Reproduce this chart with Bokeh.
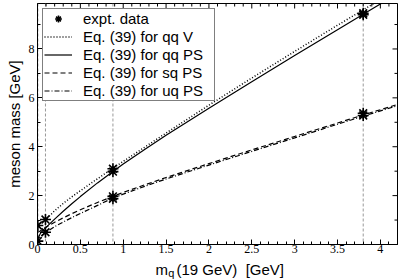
import math
from bokeh.plotting import figure
from bokeh.layouts import column
from bokeh.models import (Span, Legend, LegendItem, SingleIntervalTicker, Range1d)
from bokeh.core.properties import value
from bokeh.embed import file_html
from bokeh.resources import INLINE

# ---- data ----
quark_mass = [0.004, 0.093, 0.88, 3.8]          # vertical guide lines
expt_x = [0.004, 0.004, 0.093, 0.093, 0.88, 0.88, 0.88, 0.88, 3.8, 3.8, 3.8, 3.8]
expt_y = [0.14, 0.78, 0.50, 1.02, 2.98, 3.10, 1.87, 1.97, 9.40, 9.46, 5.28, 5.37]

mq = [0.0, 0.002, 0.01, 0.03, 0.06, 0.1, 0.2, 0.3, 0.4, 0.5, 0.7, 0.88,
      1.0, 1.25, 1.5, 2.0, 2.5, 3.0, 3.5, 3.8, 4.2]
qq_V = [0.77, 0.78, 0.80, 0.86, 0.94, 1.03, 1.38, 1.68, 1.95, 2.20, 2.69, 3.12,
        3.40, 3.98, 4.56, 5.70, 6.81, 7.90, 8.97, 9.60, 10.44]
qq_PS = [0.0, 0.14, 0.27, 0.43, 0.57, 0.70, 1.04, 1.36, 1.665, 1.96, 2.52, 2.99,
         3.29, 3.89, 4.465, 5.575, 6.66, 7.73, 8.79, 9.42, 10.26]
sq_PS = [0.49, 0.50, 0.515, 0.55, 0.62, 0.71, 0.91, 1.09, 1.26, 1.42, 1.72, 1.97,
         2.13, 2.44, 2.74, 3.31, 3.87, 4.42, 4.97, 5.30, 5.73]
uq_PS = [0.0, 0.14, 0.22, 0.31, 0.40, 0.50, 0.73, 0.92, 1.10, 1.27, 1.60, 1.90,
         2.06, 2.38, 2.68, 3.25, 3.81, 4.36, 4.92, 5.25, 5.68]

x_major_ticks = [0.0, 0.5, 1.0, 1.5, 2.0, 2.5, 3.0, 3.5, 4.0]
x_minor_ticks = [0.1, 0.2, 0.3, 0.4, 0.6, 0.7, 0.8, 0.9, 1.1, 1.2, 1.3, 1.4,
                 1.6, 1.7, 1.8, 1.9, 2.1, 2.2, 2.3, 2.4, 2.6, 2.7, 2.8, 2.9,
                 3.1, 3.2, 3.3, 3.4, 3.6, 3.7, 3.8, 3.9, 4.1, 4.2]
y_major_ticks = [0, 2, 4, 6, 8]
y_minor_ticks = [1, 3, 5, 7, 9]

legend_labels = ["expt. data", "Eq. (39) for qq V", "Eq. (39) for qq PS",
                 "Eq. (39) for sq PS", "Eq. (39) for uq PS"]
y_title = "meson mass [GeV]"
x_title_parts = ["m", "q", "(19 GeV)\u00a0 [GeV]"]

SANS = "Liberation Sans"
SERIF = "Liberation Serif"

X_MAX = 4.2
Y_MAX = 9.86
W = 398
H_MAIN, H_TITLE = 255, 24
B_LEFT, B_RIGHT, B_TOP, B_BOTTOM = 29, 1, 3, 11
frame_w = W - 37 - B_RIGHT
px_x = frame_w / X_MAX      # pixels per x data unit

p = figure(width=W, height=H_MAIN, output_backend="svg", toolbar_location=None,
           x_range=Range1d(0, X_MAX), y_range=Range1d(0, Y_MAX),
           min_border_left=B_LEFT, min_border_right=B_RIGHT,
           min_border_top=B_TOP, min_border_bottom=B_BOTTOM,
           background_fill_color="white", border_fill_color="white")
p.grid.visible = False
p.outline_line_color = "black"
p.outline_line_width = 1

def style_axis(ax):
    ax.axis_line_color = "black"
    ax.major_tick_in = 5
    ax.major_tick_out = 0
    ax.minor_tick_in = 3
    ax.minor_tick_out = 0
    ax.major_tick_line_color = "black"
    ax.minor_tick_line_color = "black"
    ax.major_label_text_font = SERIF
    ax.major_label_text_font_size = "12px"
    ax.major_label_text_color = "black"

xa = p.xaxis[0]
xa.ticker = SingleIntervalTicker(interval=0.5, num_minor_ticks=5)
style_axis(xa)
xa.major_label_standoff = 0

ya = p.yaxis[0]
ya.ticker = SingleIntervalTicker(interval=2, num_minor_ticks=2)
style_axis(ya)
ya.major_label_standoff = 3
ya.axis_label = y_title
ya.axis_label_text_font = SANS
ya.axis_label_text_font_size = "15px"
ya.axis_label_text_font_style = "normal"
ya.axis_label_text_color = "black"
ya.axis_label_standoff = 3

# inward ticks on the top and right frame edges (outer half of each dash is clipped)
p.scatter(x_major_ticks, [Y_MAX] * len(x_major_ticks), marker="dash", angle=math.pi / 2,
          size=10, line_color="black", line_width=1)
p.scatter(x_minor_ticks, [Y_MAX] * len(x_minor_ticks), marker="dash", angle=math.pi / 2,
          size=6, line_color="black", line_width=1)
p.scatter([X_MAX] * len(y_major_ticks), y_major_ticks, marker="dash",
          size=10, line_color="black", line_width=1)
p.scatter([X_MAX] * len(y_minor_ticks), y_minor_ticks, marker="dash",
          size=6, line_color="black", line_width=1)

for xv in quark_mass:
    p.add_layout(Span(location=xv, dimension="height", line_color="#999999",
                      line_width=1, line_dash="3 2", level="underlay"))

r_V = p.line(mq, qq_V, line_color="black", line_width=1.5, line_dash="1 2")
r_PS = p.line(mq, qq_PS, line_color="black", line_width=1.2)
r_sq = p.line(mq, sq_PS, line_color="black", line_width=1.2, line_dash="5 3")
r_uq = p.line(mq, uq_PS, line_color="black", line_width=1.2, line_dash="5 2 1 2")
r_star = p.scatter(expt_x, expt_y, marker="asterisk", size=11, line_color="black",
                   line_width=1.6)

legend = Legend(items=[LegendItem(label=legend_labels[0], renderers=[r_star]),
                       LegendItem(label=legend_labels[1], renderers=[r_V]),
                       LegendItem(label=legend_labels[2], renderers=[r_PS]),
                       LegendItem(label=legend_labels[3], renderers=[r_sq]),
                       LegendItem(label=legend_labels[4], renderers=[r_uq])],
                location="top_left", margin=5, padding=1, spacing=1,
                label_height=17, glyph_height=17, glyph_width=28, label_width=130,
                label_standoff=11, label_text_font=SANS, label_text_font_size="15px",
                label_text_color="black", label_text_baseline="middle",
                border_line_color="black", border_line_width=1,
                background_fill_color="white", background_fill_alpha=1.0)
p.add_layout(legend)

# ---- x-axis title strip (m with subscript q), sharing the x range ----
t = figure(width=W, height=H_TITLE, output_backend="svg", toolbar_location=None,
           x_range=p.x_range, y_range=Range1d(0, H_TITLE),
           x_axis_location=None, y_axis_location=None,
           min_border_left=37, min_border_right=B_RIGHT,
           min_border_top=0, min_border_bottom=0,
           background_fill_color="white", border_fill_color="white")
t.outline_line_color = None
t.grid.visible = False

m_px, q_px, rest_px = 118, 130.8, 139   # offsets from the frame's left edge
t.text(x=[m_px / px_x], y=[10], text=[x_title_parts[0]], text_font=value(SANS),
       text_font_size="15px", text_color="black", text_baseline="alphabetic",
       text_align="left")
t.text(x=[q_px / px_x], y=[7], text=[x_title_parts[1]], text_font=value(SANS),
       text_font_size="11px", text_color="black", text_baseline="alphabetic",
       text_align="left")
t.text(x=[rest_px / px_x], y=[10], text=[x_title_parts[2]], text_font=value(SANS),
       text_font_size="15px", text_color="black", text_baseline="alphabetic",
       text_align="left")

layout = column(p, t, spacing=0)
open("out.html", "w").write(file_html(layout, INLINE))
